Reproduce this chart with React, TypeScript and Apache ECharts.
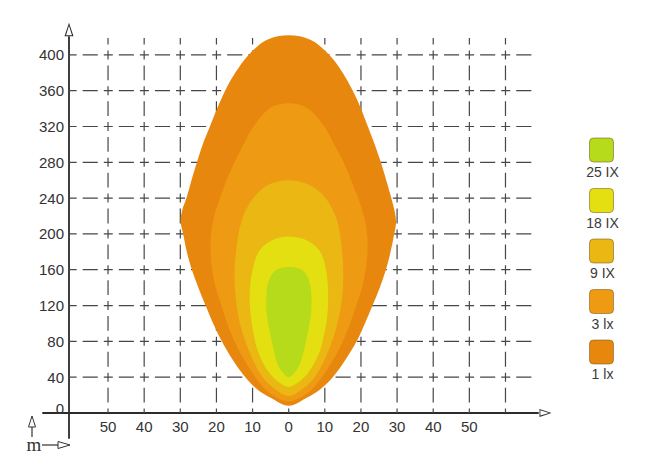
import React, { useEffect, useRef } from "react";
import * as echarts from "echarts";

// ---- data ----
const levelLabels = ["25 IX", "18 IX", "9 IX", "3 lx", "1 lx"];
const levelColors = ["#B6DB1A", "#E3DF10", "#EAB713", "#EE9A12", "#E8870E"];

const xTickValues = [-50, -40, -30, -20, -10, 0, 10, 20, 30, 40, 50];
const yTickValues = [0, 40, 80, 120, 160, 200, 240, 280, 320, 360, 400];
const xGridValues = [-50, -40, -30, -20, -10, 0, 10, 20, 30, 40, 50, 60];
const yGridValues = [40, 80, 120, 160, 200, 240, 280, 320, 360, 400];

// iso-lux contours, [lateral m, distance m]
const contour1lx = [
  [0, 422], [6, 417], [11, 401], [14.8, 381], [17.6, 361], [19.9, 341], [21.8, 321],
  [23.8, 300], [25.5, 280], [27, 260], [28.4, 240], [29.4, 224], [29.7, 212], [29.2, 200],
  [28.2, 180], [26.9, 160], [25.2, 140], [23.2, 120], [21.1, 100], [18.8, 80], [15.8, 60],
  [12.2, 40], [8.6, 26], [5, 17], [0, 8], [-5, 17], [-8.6, 26], [-12, 40], [-15.6, 60],
  [-18.5, 80], [-20.9, 100], [-23, 120], [-25, 140], [-26.8, 160], [-28.2, 180], [-29.2, 200],
  [-29.9, 214], [-29.5, 226], [-28.3, 240], [-26.9, 260], [-25.4, 280], [-23.8, 300],
  [-21.8, 320], [-19.8, 340], [-17.6, 360], [-14.8, 380], [-11.1, 400], [-6, 417],
];
const contour3lx = [
  [0, 346], [5, 341], [9.5, 322], [12.6, 300], [15.2, 280], [17.3, 260], [19.2, 240],
  [20.8, 220], [21.7, 200], [21.8, 180], [21.3, 160], [20.3, 140], [18.7, 120], [17, 100],
  [15, 80], [12.4, 60], [9.2, 40], [5.2, 22], [0, 13], [-5.2, 22], [-9.2, 40], [-12.4, 60],
  [-15, 80], [-17, 100], [-18.6, 120], [-20.2, 140], [-21.2, 160], [-21.6, 180], [-21.5, 200],
  [-20.6, 220], [-19, 240], [-17.2, 260], [-15, 280], [-12.5, 300], [-9.4, 322], [-5, 341],
];
const contour9lx = [
  [0, 260], [5, 256], [8.3, 248], [10.6, 238], [12.3, 226], [13.4, 215], [14.2, 200],
  [14.8, 180], [15.1, 160], [15, 140], [14.5, 120], [13.5, 100], [12, 80], [10, 60],
  [7.2, 40], [4.2, 28], [0, 19], [-4.2, 28], [-7.2, 40], [-10, 60], [-12, 80], [-13.5, 100],
  [-14.4, 120], [-14.9, 140], [-15, 160], [-14.6, 180], [-13.9, 200], [-13, 215],
  [-12, 226], [-10.2, 238], [-8, 248], [-5, 256],
];
const contour18lx = [
  [0, 197], [4.3, 194], [7.2, 187], [9, 178], [10.2, 163], [10.8, 145], [10.9, 125],
  [10.6, 105], [9.8, 88], [8.7, 70], [7, 55], [5, 43], [2.6, 34], [0, 29], [-2.6, 34],
  [-5, 43], [-7, 55], [-8.6, 70], [-9.7, 88], [-10.4, 105], [-10.8, 125], [-10.6, 145],
  [-9.8, 163], [-8.6, 178], [-6.8, 187], [-4, 194],
];
const contour25lx = [
  [0, 163], [3, 161], [4.8, 155], [5.9, 144], [6.3, 128], [6.2, 112], [5.7, 98], [5, 84],
  [4.1, 68], [3.1, 55], [1.8, 46], [0, 40], [-1.8, 46], [-3.1, 55], [-4, 68], [-4.9, 84],
  [-5.6, 98], [-6.1, 112], [-6.2, 128], [-5.8, 144], [-4.6, 155], [-2.8, 161],
];

// same order as the legend
const levelContours = [contour25lx, contour18lx, contour9lx, contour3lx, contour1lx];

// ---- styles / layout ----
const FONT = '"Liberation Sans", Arial, Helvetica, sans-serif';
const AXIS_COLOR = "#2b2b2b";
const GRID_COLOR = "#474747";
const Y_AXIS_AT = -60.8;
const GRID_X_END = 68;
const GRID_Y_END = 419;
const ARROW = "path://M5,0 L10,15 L0,15 Z M5,3.2 L1.7,13.9 L8.3,13.9 Z";

export default function App() {
  const ref = useRef<HTMLDivElement>(null);

  useEffect(() => {
    if (!ref.current) return;
    const chart = echarts.init(ref.current, undefined, { renderer: "svg" });

    const cross = 9;
    const gap = 6;

    const legendGraphics: any[] = [];
    levelLabels.forEach((label, i) => {
      const top = 138 + i * 50.5;
      legendGraphics.push({
        type: "rect",
        silent: true,
        shape: { x: 589.5, y: top, width: 24, height: 24, r: 4 },
        style: { fill: levelColors[i], stroke: "rgba(120,85,30,0.55)", lineWidth: 1 },
      });
      legendGraphics.push({
        type: "text",
        silent: true,
        x: 602.5,
        y: top + 34,
        style: {
          text: label,
          fill: "#3a3a3a",
          font: `14px ${FONT}`,
          align: "center",
          verticalAlign: "middle",
          textAlign: "center",
          textVerticalAlign: "middle",
        },
      });
    });

    const unitMark: any[] = [
      { type: "polygon", silent: true, shape: { points: [[32, 416], [35.5, 427], [28.5, 427]] }, style: { fill: "#fff", stroke: "#333", lineWidth: 1 } },
      { type: "line", silent: true, shape: { x1: 32, y1: 427, x2: 32, y2: 437 }, style: { stroke: "#333", lineWidth: 1.2 } },
      {
        type: "text", silent: true, x: 34, y: 444,
        style: { text: "m", fill: "#333", font: '19px "Liberation Serif", "Times New Roman", serif', align: "center", verticalAlign: "middle", textAlign: "center", textVerticalAlign: "middle" },
      },
      { type: "line", silent: true, shape: { x1: 42, y1: 445, x2: 58, y2: 445 }, style: { stroke: "#333", lineWidth: 1.2 } },
      { type: "polygon", silent: true, shape: { points: [[58, 441.5], [70, 445], [58, 448.5]] }, style: { fill: "#fff", stroke: "#333", lineWidth: 1 } },
    ];

    const option: any = {
      animation: false,
      backgroundColor: "#ffffff",
      tooltip: { show: false },
      grid: { left: 43, right: 114, top: 37, bottom: 38, containLabel: false, outerBoundsMode: "none" },
      xAxis: {
        type: "value",
        min: -68,
        max: 69,
        axisLine: {
          show: true,
          onZero: true,
          symbol: ["none", ARROW],
          symbolSize: [8, 15],
          symbolOffset: [0, 7.5],
          lineStyle: { color: AXIS_COLOR, width: 1.8 },
        },
        axisTick: { show: false },
        splitLine: { show: false },
        axisLabel: {
          customValues: xTickValues,
          formatter: (v: number) => String(Math.abs(v)),
          color: "#333",
          fontSize: 15,
          fontFamily: FONT,
          margin: -19,
        },
      },
      yAxis: {
        type: "value",
        min: -28,
        max: 420,
        offset: -26,
        axisLine: {
          show: true,
          onZero: false,
          symbol: ["none", ARROW],
          symbolSize: [9, 15],
          symbolOffset: [0, 7.5],
          lineStyle: { color: AXIS_COLOR, width: 1.8 },
        },
        axisTick: { show: false },
        splitLine: { show: false },
        axisLabel: {
          customValues: yTickValues,
          formatter: (v: number) => (v === 0 ? "{z|0}" : String(v)),
          rich: { z: { padding: [0, 0, 9, 0], fontSize: 15, fontFamily: FONT, color: "#333" } },
          color: "#333",
          fontSize: 15,
          fontFamily: FONT,
          margin: 5,
        },
      },
      graphic: [...legendGraphics, ...unitMark],
      series: [
        {
          type: "custom",
          name: "vgrid",
          silent: true,
          z: 1,
          data: xGridValues.map((v) => [v, 0]),
          renderItem: (_params: any, api: any) => {
            const x = api.value(0);
            const p0 = api.coord([x, 0]);
            const p1 = api.coord([x, GRID_Y_END]);
            const period = api.size([0, 40])[1];
            return {
              type: "line",
              shape: { x1: p0[0], y1: p0[1], x2: p1[0], y2: p1[1] },
              style: {
                stroke: GRID_COLOR,
                lineWidth: 1.2,
                lineDash: [cross / 2, gap, period - cross - 2 * gap, gap, cross / 2, 0],
              },
            };
          },
        },
        {
          type: "custom",
          name: "hgrid",
          silent: true,
          z: 1,
          data: yGridValues.map((v) => [Y_AXIS_AT, v]),
          renderItem: (_params: any, api: any) => {
            const y = api.value(1);
            const p0 = api.coord([Y_AXIS_AT, y]);
            const p1 = api.coord([GRID_X_END, y]);
            const firstCross = api.coord([-60, y]);
            const period = api.size([10, 0])[0];
            const d = firstCross[0] - p0[0];
            return {
              type: "line",
              shape: { x1: p0[0], y1: p0[1], x2: p1[0], y2: p1[1] },
              style: {
                stroke: GRID_COLOR,
                lineWidth: 1.2,
                lineDash: [cross / 2, gap, period - cross - 2 * gap, gap, cross / 2, 0],
                lineDashOffset: period - d,
              },
            };
          },
        },
        {
          type: "custom",
          name: "isolux",
          silent: true,
          z: 2,
          data: [4, 3, 2, 1, 0].map((i) => [0, 0, i]),
          renderItem: (_params: any, api: any) => {
            const idx = api.value(2);
            const pts = levelContours[idx].map((p) => api.coord(p));
            return {
              type: "polygon",
              shape: { points: pts, smooth: 0.35 },
              style: { fill: levelColors[idx], stroke: "none" },
            };
          },
        },
      ],
    };

    chart.setOption(option);
    return () => chart.dispose();
  }, []);

  return (
    <div
      ref={ref}
      style={{ position: "absolute", left: 0, top: 0, width: 652, height: 476, background: "#fff" }}
    />
  );
}
